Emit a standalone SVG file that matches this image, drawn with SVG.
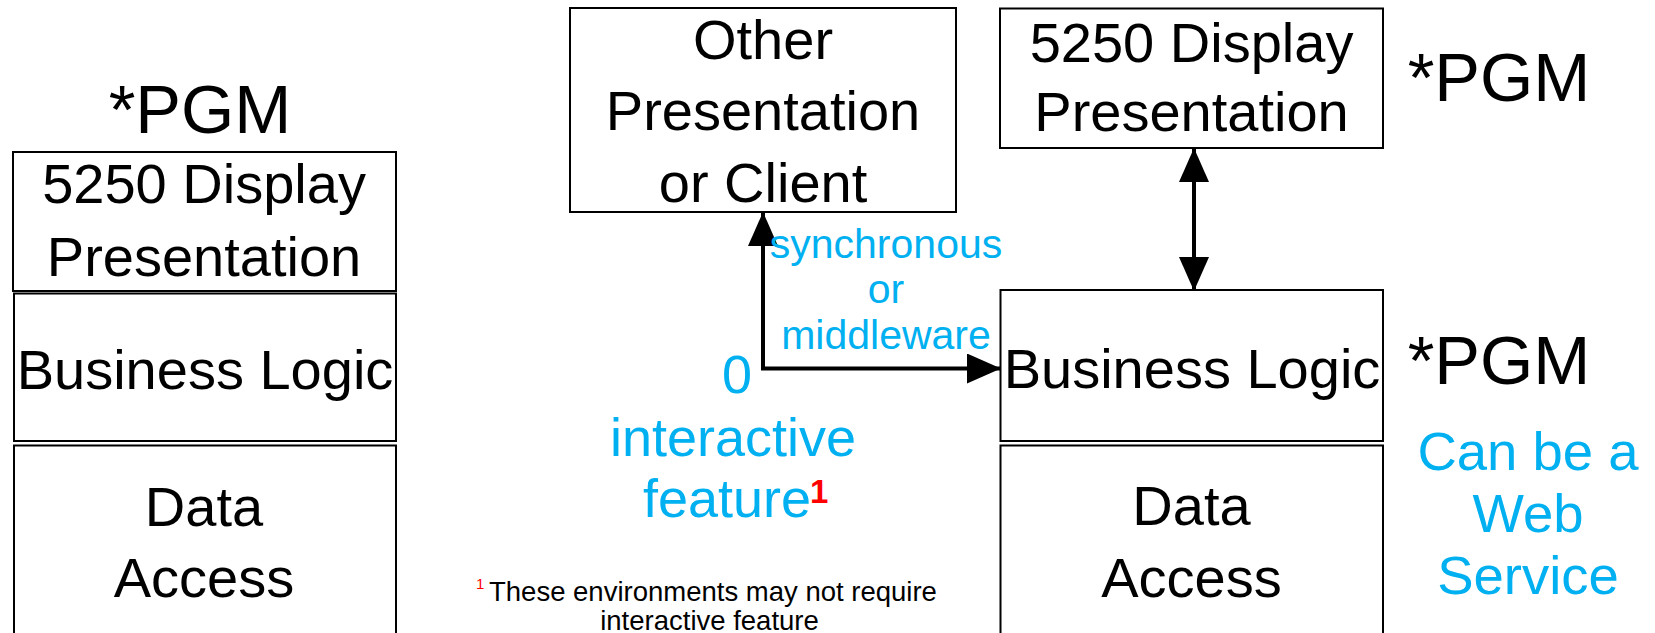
<svg xmlns="http://www.w3.org/2000/svg" width="1655" height="633" viewBox="0 0 1655 633">
<style>
.box{fill:#fff;stroke:#000;stroke-width:2}
.t{font-family:"Liberation Sans",Arial,sans-serif;font-size:56px;fill:#000;text-anchor:middle}
.pgm{font-family:"Liberation Sans",Arial,sans-serif;font-size:68.5px;fill:#000;text-anchor:middle}
.blue{font-family:"Liberation Sans",Arial,sans-serif;fill:#00B0F0;text-anchor:middle}
.line{fill:none;stroke:#000;stroke-width:4}
.note{font-family:"Liberation Sans",Arial,sans-serif;font-size:27.5px;fill:#000}
</style>
<defs>
<marker id="ah" viewBox="0 0 34 30" refX="33" refY="15" markerWidth="34" markerHeight="30" markerUnits="userSpaceOnUse" orient="auto-start-reverse">
<path d="M0,0 L34,15 L0,30 Z" fill="#000"/>
</marker>
</defs>
<rect width="1655" height="633" fill="#fff"/>

<g id="left-pgm"><text class="pgm" x="200" y="133">*PGM</text></g>
<g id="left-presentation">
<rect class="box" x="13" y="152" width="383" height="139"/>
<text class="t" x="204" y="203">5250 Display</text>
<text class="t" x="204" y="275.5">Presentation</text>
</g>
<g id="left-business">
<rect class="box" x="14" y="293.5" width="382" height="147.5"/>
<text class="t" x="205" y="389">Business Logic</text>
</g>
<g id="left-data">
<rect class="box" x="14" y="445.5" width="382" height="200"/>
<text class="t" x="204" y="526">Data</text>
<text class="t" x="204" y="597">Access</text>
</g>

<g id="other-client">
<rect class="box" x="570" y="8" width="386" height="204"/>
<text class="t" x="763" y="58.5">Other</text>
<text class="t" x="763" y="130">Presentation</text>
<text class="t" x="763" y="201.5">or Client</text>
</g>

<g id="right-presentation">
<rect class="box" x="1000" y="8.5" width="383" height="139.5"/>
<text class="t" x="1191.5" y="61.5">5250 Display</text>
<text class="t" x="1191.5" y="131">Presentation</text>
</g>
<g id="right-pgm-top"><text class="pgm" x="1499" y="100.5">*PGM</text></g>
<g id="right-business">
<rect class="box" x="1000.5" y="290" width="382.5" height="151"/>
<text class="t" x="1192" y="388">Business Logic</text>
</g>
<g id="right-pgm-low"><text class="pgm" x="1499" y="384">*PGM</text></g>
<g id="right-data">
<rect class="box" x="1000.5" y="445.5" width="382.5" height="200"/>
<text class="t" x="1191.5" y="525">Data</text>
<text class="t" x="1191.5" y="597">Access</text>
</g>

<g id="connectors">
<path class="line" d="M763,213 L763,368.5 L1000,368.5" marker-start="url(#ah)" marker-end="url(#ah)"/>
<path class="line" d="M1194,149 L1194,290" marker-start="url(#ah)" marker-end="url(#ah)"/>
</g>

<g id="labels">
<text class="blue" font-size="41" x="886" y="257.5">synchronous</text>
<text class="blue" font-size="41" x="886" y="303">or</text>
<text class="blue" font-size="41" x="886" y="348.5">middleware</text>
<text class="blue" font-size="54" x="737" y="392.5">0</text>
<text class="blue" font-size="54" x="733" y="456">interactive</text>
<text class="blue" font-size="54" x="727" y="517">feature</text>
<text x="810" y="503" font-family="Liberation Sans,Arial,sans-serif" font-size="33" font-weight="bold" fill="#FF0000">1</text>
<text class="blue" font-size="54.5" x="1528" y="469.5">Can be a</text>
<text class="blue" font-size="54.5" x="1528" y="532">Web</text>
<text class="blue" font-size="54.5" x="1528" y="594">Service</text>
</g>

<g id="footnote">
<text x="476" y="589" font-family="Liberation Sans,Arial,sans-serif" font-size="15" fill="#FF0000">1</text>
<text class="note" x="489" y="600.5">These environments may not require</text>
<text class="note" x="709.5" y="629.5" text-anchor="middle">interactive feature</text>
</g>
</svg>
